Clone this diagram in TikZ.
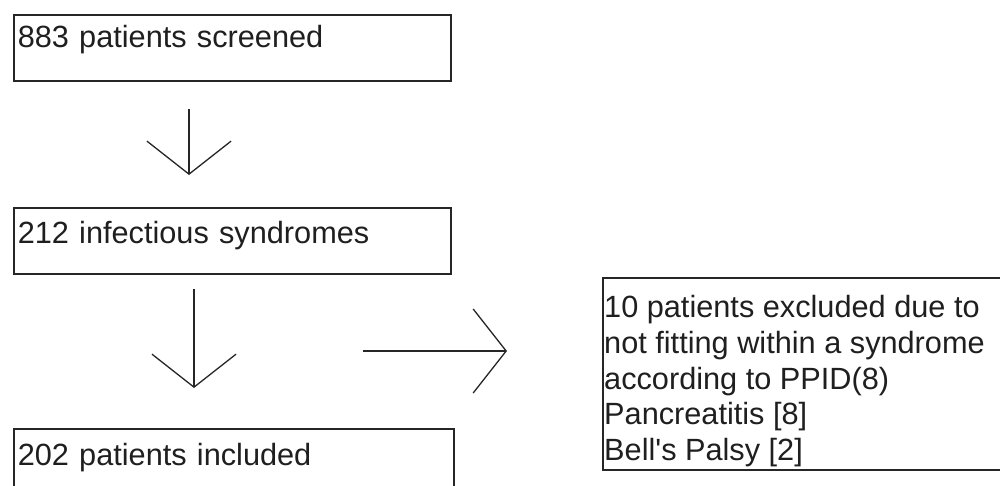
\documentclass[tikz,border=0pt]{standalone}
\usepackage{fontspec}
\setmainfont{Liberation Sans}[Ligatures=TeXOff]
\usetikzlibrary{arrows.meta}
\begin{document}
\begin{tikzpicture}[x=1pt,y=-1pt,
  txt/.style={font=\fontsize{30.7}{35.8}\selectfont, text=black!88},
  box/.style={txt, draw=black!85, line width=1.6pt, anchor=north west,
    inner xsep=4pt, inner ysep=0pt, text width=429pt, align=left},
  arr/.style={line width=1.3pt, draw=black!85,
    -{Straight Barb[length=33pt,width=84pt,line width=1.3pt]}}]
\useasboundingbox (0,0) rectangle (1000,485);
\clip (0,0) rectangle (1000,485);
\fill[white] (0,0) rectangle (1000,485);
\node[box, text height=33pt, text depth=33pt] (b1) at (13,14) {883 patients screened};
\node[box, text height=36pt, text depth=30pt] (b2) at (13,207) {212 infectious syndromes};
\node[box, text width=432pt, text height=37pt, text depth=45pt] (b3) at (13,428) {202 patients included};
\node[draw=black!85, line width=1.6pt, anchor=north west, minimum width=420pt, minimum height=192pt, inner sep=0pt] (b4) at (602,277) {};
\node[txt, anchor=north west, align=left, inner sep=0pt] (t4) at (604,295)
  {10 patients excluded due to\\not fitting within a syndrome\\according to PPID(8)\\Pancreatitis [8]\\Bell's Palsy [2]};
\coordinate (a1s) at (189,109);
\coordinate (a1e) at (189,175);
\coordinate (a2s) at (194,289);
\coordinate (a2e) at (194,388);
\coordinate (a3s) at (363,351);
\coordinate (a3e) at (507,351);
\draw[arr] (a1s) -- (a1e);
\draw[arr] (a2s) -- (a2e);
\draw[arr] (a3s) -- (a3e);
\end{tikzpicture}
\end{document}
